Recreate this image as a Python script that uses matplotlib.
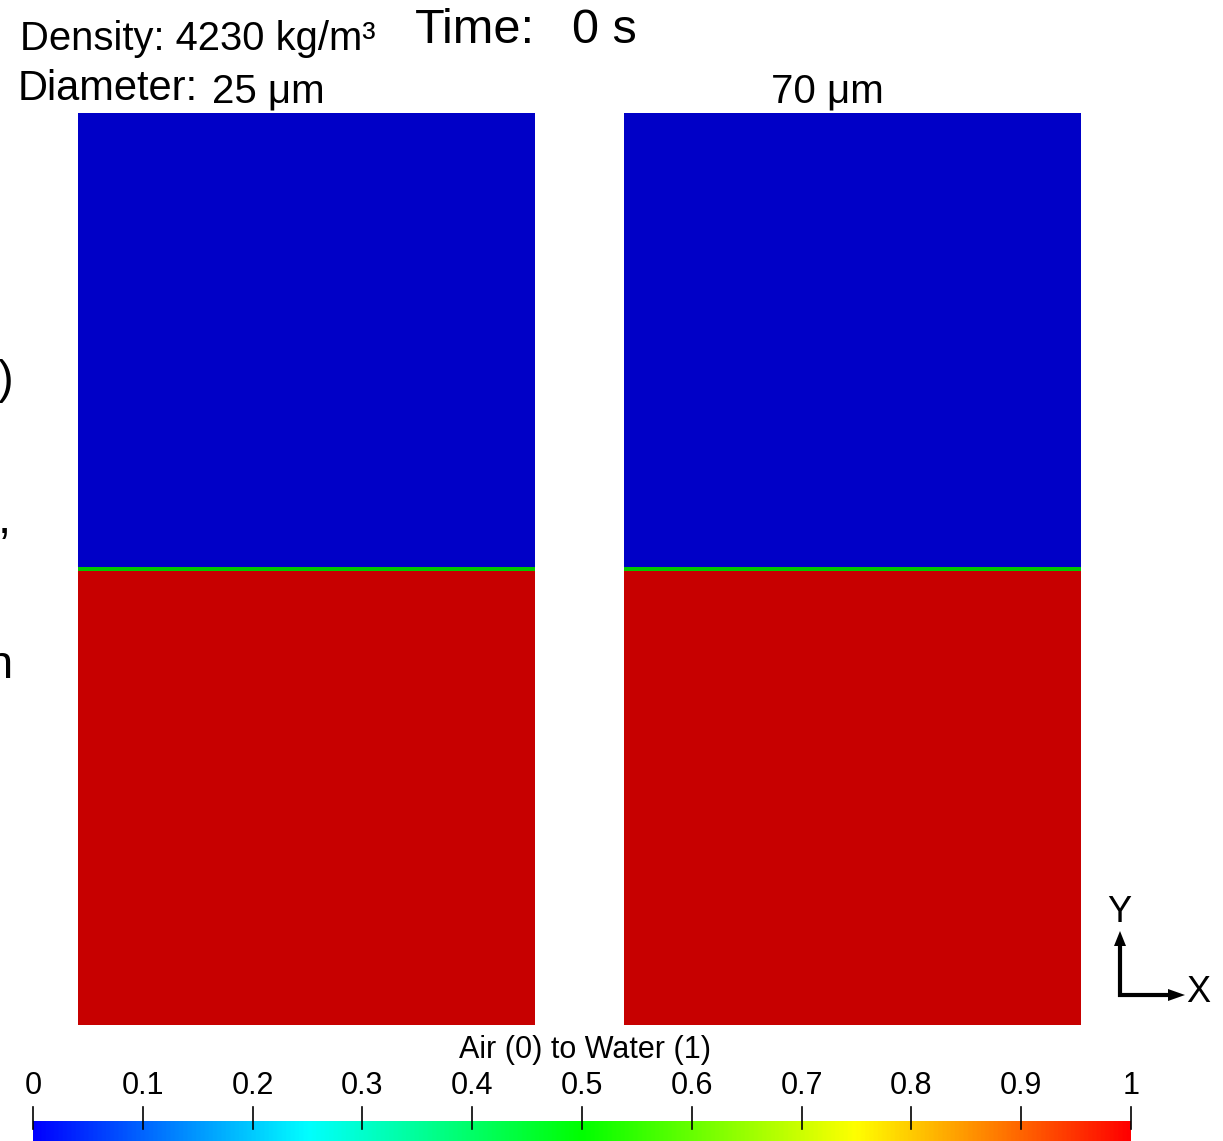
import matplotlib
matplotlib.use("Agg")
import matplotlib.pyplot as plt
import numpy as np
from matplotlib.colors import LinearSegmentedColormap, hsv_to_rgb

plt.rcParams['font.family'] = ['Liberation Sans', 'DejaVu Sans']

# data
panel_titles = ["25 μm", "70 μm"]
density = 4230
time_s = 0
# volume fraction profile (height fraction edges, value in each band)
height_edges = [0.0, 0.498, 0.502, 1.0]
fraction_values = [1.0, 0.5, 0.0]
cbar_ticks = [0, 0.1, 0.2, 0.3, 0.4, 0.5, 0.6, 0.7, 0.8, 0.9, 1]
cbar_labels = ["0", "0.1", "0.2", "0.3", "0.4", "0.5", "0.6", "0.7", "0.8", "0.9", "1"]
cbar_title = "Air (0) to Water (1)"

W, H = 1223, 1141
fig = plt.figure(figsize=(W / 100, H / 100), dpi=100)


def px_axes(x0, y0, x1, y1):
    return fig.add_axes([x0 / W, 1 - y1 / H, (x1 - x0) / W, (y1 - y0) / H])


# blue -> red rainbow (hue interpolation)
hues = np.linspace(240, 0, 256) / 360.0
rgb = hsv_to_rgb(np.stack([hues, np.ones(256), np.ones(256)], axis=1))
rainbow = LinearSegmentedColormap.from_list("b2r", rgb)
shaded = LinearSegmentedColormap.from_list("b2r_shade", rgb * 0.78)

panels = [(78, 113, 535, 1025), (624, 113, 1081, 1025)]
for (x0, y0, x1, y1) in panels:
    ax = px_axes(x0, y0, x1, y1)
    vals = np.array(fraction_values).reshape(-1, 1)
    ax.pcolormesh([0, 1], height_edges, vals, cmap=shaded, vmin=0, vmax=1,
                  shading='flat')
    ax.set_xlim(0, 1)
    ax.set_ylim(0, 1)
    ax.axis('off')

# header texts
fig.text(20 / W, 1 - 50 / H, f"Density: {density} kg/m³", fontsize=28.8, va='baseline')
fig.text(415 / W, 1 - 43 / H, "Time:", fontsize=35, va='baseline')
fig.text(572 / W, 1 - 43 / H, f"{time_s} s", fontsize=35, va='baseline')
fig.text(18 / W, 1 - 100 / H, "Diameter:", fontsize=30, va='baseline')
fig.text(212 / W, 1 - 102 / H, panel_titles[0], fontsize=29, va='baseline')
fig.text(827 / W, 1 - 102 / H, panel_titles[1], fontsize=29, va='baseline', ha='center')

# cut-off glyphs on the left edge
fig.text(13 / W, 1 - 393 / H, ")", fontsize=34, va='baseline', ha='right')
fig.text(11 / W, 1 - 533 / H, ",", fontsize=34, va='baseline', ha='right')
fig.text(13 / W, 1 - 678 / H, "n", fontsize=34, va='baseline', ha='right')

# colorbar
cax = px_axes(33, 1121, 1131, 1141 + 4)
grad = np.linspace(0, 1, 512).reshape(1, -1)
cax.imshow(grad, aspect='auto', cmap=rainbow, extent=[0, 1, 0, 1])
cax.set_xlim(0, 1)
cax.set_ylim(0, 1)
cax.axis('off')
tr = cax.get_xaxis_transform()
for t, lab in zip(cbar_ticks, cbar_labels):
    cax.plot([t, t], [1 + 14 / 24, 1 - 8 / 24], color='black', lw=1.2,
             transform=tr, clip_on=False)
    cax.text(t, 1 + 35 / 24, lab, transform=tr, ha='center', va='center',
             fontsize=22)
cax.text(0.5025, 1 + 71 / 24, cbar_title, transform=tr, ha='center',
         va='center', fontsize=22)

# orientation triad
tax = px_axes(1100, 900, 1223, 1020)
tax.set_xlim(1100, 1223)
tax.set_ylim(1020, 900)
tax.axis('off')
tax.plot([1120, 1120, 1172], [938, 995, 995], color='black', lw=3,
         solid_joinstyle='miter', solid_capstyle='butt')
tax.fill([1114, 1126, 1120], [946, 946, 931], color='black', lw=0)
tax.fill([1168, 1168, 1185], [989, 1001, 995], color='black', lw=0)
tax.text(1119, 913, "Y", fontsize=26, ha='center', va='center')
tax.text(1198, 993, "X", fontsize=26, ha='center', va='center')

fig.savefig("out.png", dpi=100, facecolor='white')
